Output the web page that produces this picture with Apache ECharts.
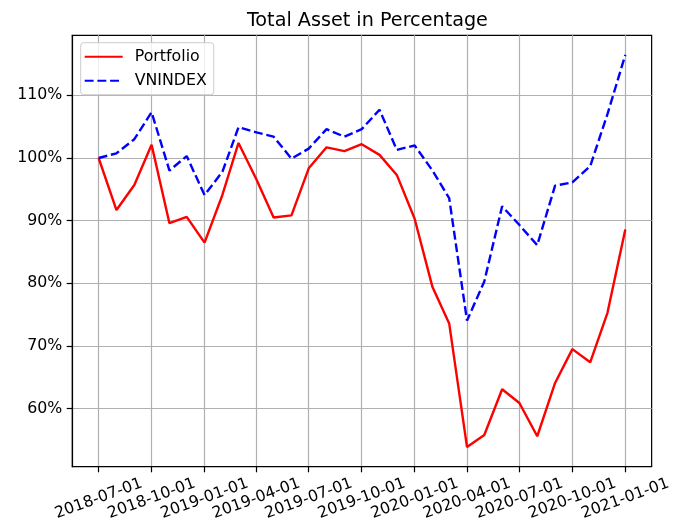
<!DOCTYPE html>
<html>
<head>
<meta charset="utf-8">
<script src="https://cdn.jsdelivr.net/npm/echarts@6/dist/echarts.min.js"></script>
<style>
html,body{margin:0;padding:0;background:#fff;}
#chart{width:674px;height:529px;}
</style>
</head>
<body>
<div id="chart"></div>
<script>
// ---- data ----
var dates = [
  '2018-07-01','2018-08-01','2018-09-01','2018-10-01','2018-11-01','2018-12-01',
  '2019-01-01','2019-02-01','2019-03-01','2019-04-01','2019-05-01','2019-06-01',
  '2019-07-01','2019-08-01','2019-09-01','2019-10-01','2019-11-01','2019-12-01',
  '2020-01-01','2020-02-01','2020-03-01','2020-04-01','2020-05-01','2020-06-01',
  '2020-07-01','2020-08-01','2020-09-01','2020-10-01','2020-11-01','2020-12-01',
  '2021-01-01'
];
var portfolio = [
  100, 91.7, 95.7, 102.1, 89.6, 90.6,
  86.5, 94.1, 102.4, 96.6, 90.5, 90.85,
  98.35, 101.7, 101.1, 102.2, 100.5, 97.3,
  90.3, 79.4, 73.6, 53.87, 55.8, 63.1,
  60.9, 55.6, 64.1, 69.5, 67.4, 75.3,
  88.6
];
var vnindex = [
  100, 100.75, 103.0, 107.3, 98.0, 100.3,
  94.1, 97.8, 104.9, 104.1, 103.4, 99.9,
  101.5, 104.6, 103.4, 104.6, 107.7, 101.3,
  102.0, 98.0, 93.6, 74.05, 80.3, 92.3,
  89.3, 86.1, 95.6, 96.1, 98.7, 107.0,
  116.45
];
var xTickLabels = [
  '2018-07-01','2018-10-01','2019-01-01','2019-04-01','2019-07-01','2019-10-01',
  '2020-01-01','2020-04-01','2020-07-01','2020-10-01','2021-01-01'
];
var yTicks = [60, 70, 80, 90, 100, 110];
var seriesNames = ['Portfolio', 'VNINDEX'];
var titleText = 'Total Asset in Percentage';

// ---- build ----
var ts = dates.map(function (d) { return Date.parse(d); });
var xSpan = ts[ts.length - 1] - ts[0];
var xMin = ts[0] - xSpan * 0.05, xMax = ts[ts.length - 1] + xSpan * 0.05;
var allY = portfolio.concat(vnindex);
var yLo = Math.min.apply(null, allY), yHi = Math.max.apply(null, allY);
var yMin = yLo - (yHi - yLo) * 0.05, yMax = yHi + (yHi - yLo) * 0.05;
var xTickVals = xTickLabels.map(function (d) { return Date.parse(d); });

function fmtDate(v) {
  var d = new Date(v);
  var m = d.getUTCMonth() + 1, dd = d.getUTCDate();
  return d.getUTCFullYear() + '-' + (m < 10 ? '0' : '') + m + '-' + (dd < 10 ? '0' : '') + dd;
}

var FONT = 'DejaVu Sans';
var chart = echarts.init(document.getElementById('chart'), null, {renderer: 'canvas'});
chart.setOption({
  animation: false,
  backgroundColor: '#ffffff',
  title: {
    text: titleText,
    left: 362.4, top: 7, textAlign: 'center',
    textStyle: {fontFamily: FONT, fontSize: 19.2, fontWeight: 'normal', color: '#000'}
  },
  grid: {
    left: 72.3, right: 21.5, top: 35.3, bottom: 62.3,
    show: true, borderColor: '#000', borderWidth: 1.2, backgroundColor: 'transparent'
  },
  legend: {
    data: seriesNames,
    orient: 'vertical',
    left: 80.7, top: 42.7,
    padding: [5, 7, 5, 3],
    itemWidth: 38, itemHeight: 14, itemGap: 6,
    itemStyle: {opacity: 0, borderWidth: 0},
    backgroundColor: 'rgba(255,255,255,0.8)',
    borderColor: '#cccccc', borderWidth: 1, borderRadius: 3,
    textStyle: {fontFamily: FONT, fontSize: 15.8, color: '#000', lineHeight: 18, padding: [0, 0, 0, 7]}
  },
  xAxis: {
    type: 'value', min: xMin, max: xMax,
    axisLine: {show: true, onZero: false, lineStyle: {color: '#000', width: 1.2}},
    axisTick: {show: true, length: 5.6, lineStyle: {color: '#000', width: 1.2}, customValues: xTickVals},
    axisLabel: {
      customValues: xTickVals,
      formatter: function (v) { return fmtDate(v); },
      rotate: 20, align: 'center', verticalAlign: 'middle', margin: 32,
      fontFamily: FONT, fontSize: 15.8, color: '#000', hideOverlap: false
    },
    splitLine: {show: true, lineStyle: {color: '#b0b0b0', width: 1.2}}
  },
  yAxis: {
    type: 'value', min: yMin, max: yMax,
    axisLine: {show: true, lineStyle: {color: '#000', width: 1.2}},
    axisTick: {show: true, length: 5.6, lineStyle: {color: '#000', width: 1.2}, customValues: yTicks},
    axisLabel: {
      customValues: yTicks,
      formatter: function (v) { return Math.round(v) + '%'; },
      margin: 10, fontFamily: FONT, fontSize: 15.8, color: '#000'
    },
    splitLine: {show: true, lineStyle: {color: '#b0b0b0', width: 1.2}}
  },
  series: [
    {
      name: seriesNames[0], type: 'line', showSymbol: false, symbol: 'none',
      data: ts.map(function (t, i) { return [t, portfolio[i]]; }),
      lineStyle: {color: '#ff0000', width: 2.4},
      itemStyle: {color: '#ff0000'}, z: 2
    },
    {
      name: seriesNames[1], type: 'line', showSymbol: false, symbol: 'none',
      data: ts.map(function (t, i) { return [t, vnindex[i]]; }),
      lineStyle: {color: '#0000ff', width: 2.4, type: [8.9, 3.8]},
      itemStyle: {color: '#0000ff'}, z: 3
    }
  ]
});
</script>
</body>
</html>
